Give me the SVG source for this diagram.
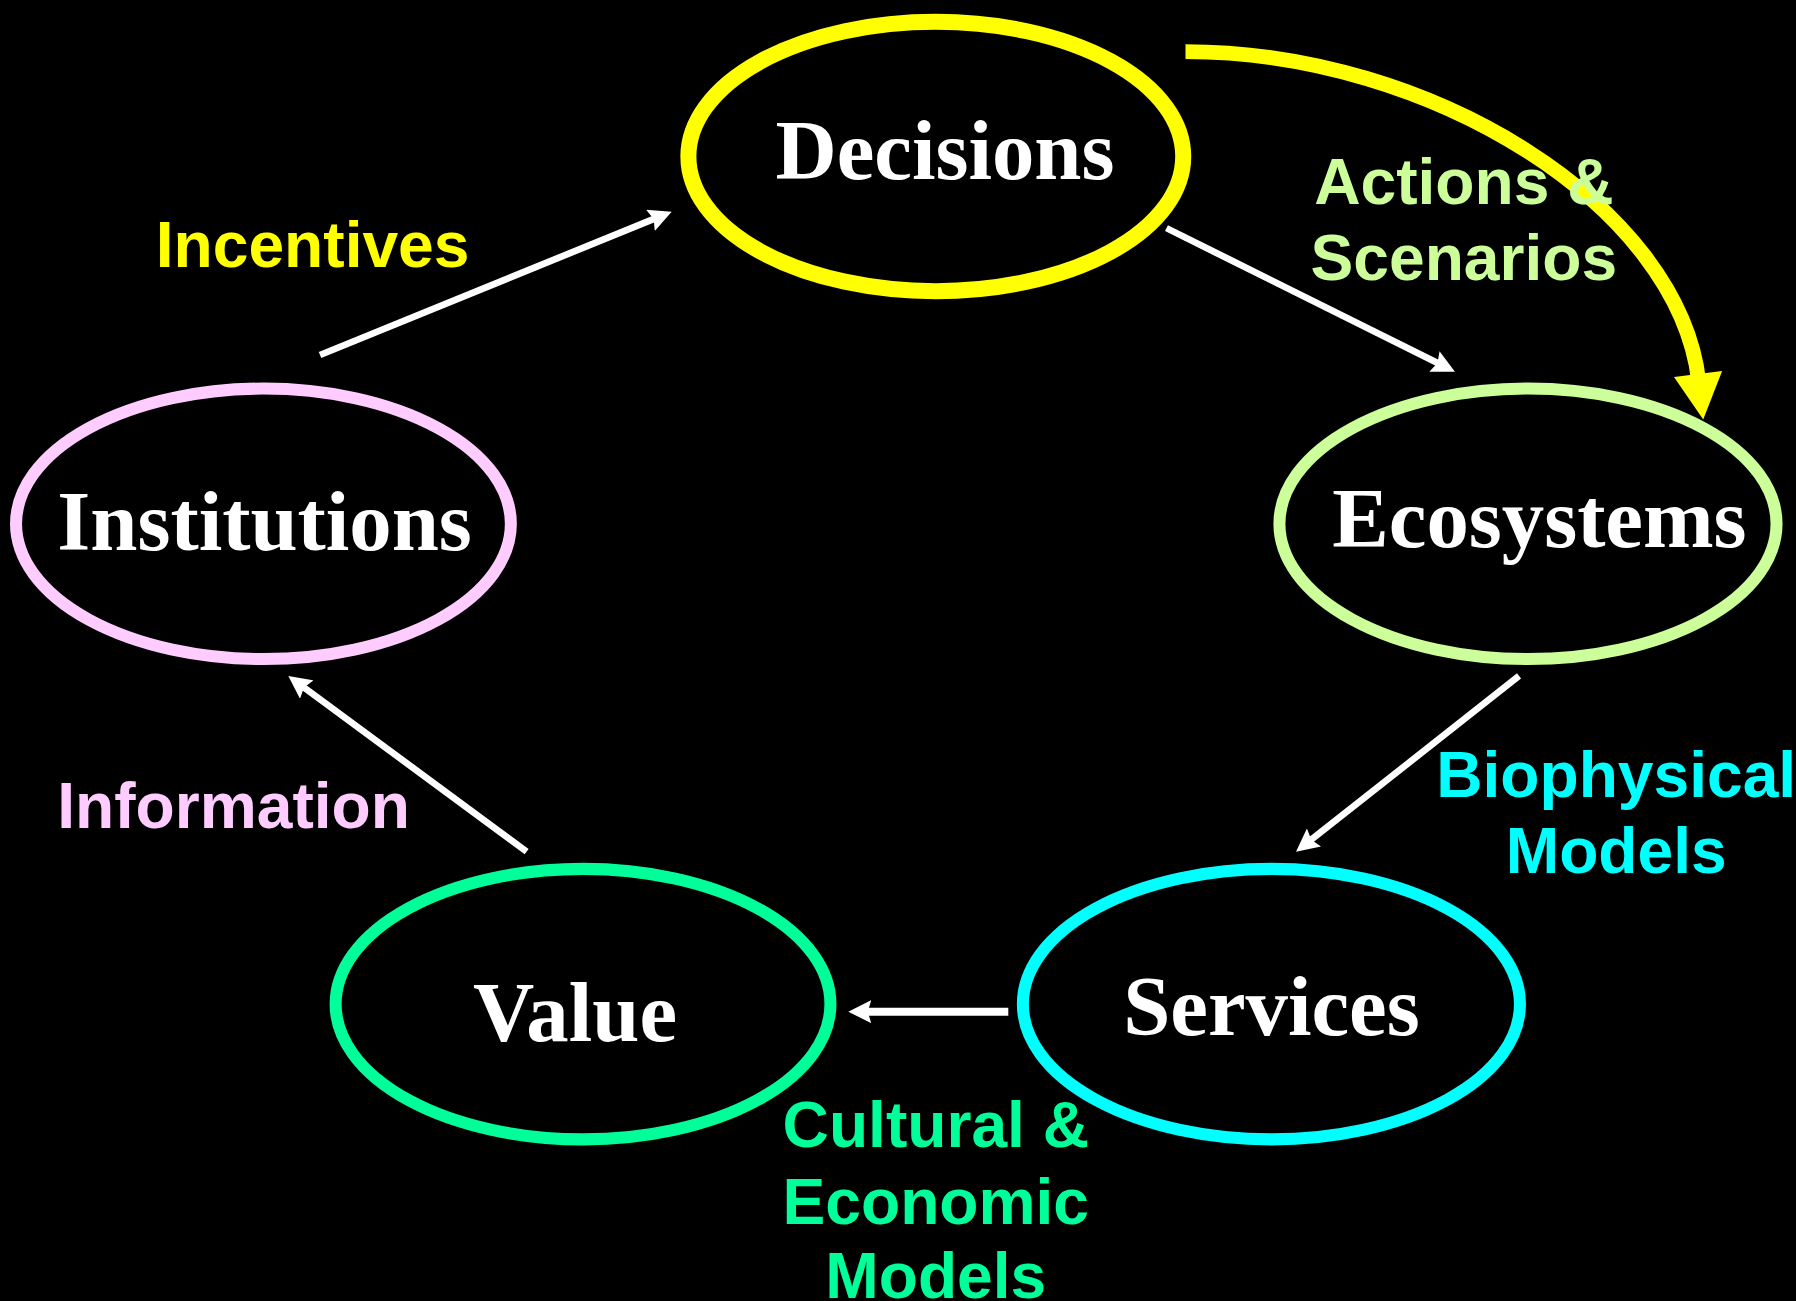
<svg xmlns="http://www.w3.org/2000/svg" width="1796" height="1301" viewBox="0 0 1796 1301">
<defs>
<style>
.node ellipse{fill:none;stroke-width:10.5}
.title{font-family:"Liberation Serif","Times New Roman",serif;font-weight:bold;font-size:74px;fill:#FFFFFF;text-anchor:middle}
.lbl{font-family:"Liberation Sans",Arial,sans-serif;font-weight:bold;font-size:56px}
.conn line{stroke:#FFFFFF;stroke-width:5.8;fill:none;marker-end:url(#ah)}
</style>
<marker id="ah" markerUnits="userSpaceOnUse" markerWidth="20" markerHeight="20" refX="8" refY="10" orient="auto" viewBox="0 0 20 20">
<path d="M0,0 L20,10 L0,20 L3,10 z" fill="#FFFFFF"/>
</marker>
</defs>
<rect x="0" y="0" width="1796" height="1301" fill="#000000"/>
<g transform="scale(1.14541 1.14626)">
<g id="connectors" class="conn">
<line x1="279.4" y1="309.7" x2="575.3" y2="189.2"/>
<line x1="1018.4" y1="199" x2="1259.5" y2="318.9"/>
<line x1="1326.2" y1="589.7" x2="1140.9" y2="735.6"/>
<line x1="880.3" y1="882.6" x2="752.6" y2="882.6" style="stroke-width:7"/>
<line x1="459.8" y1="743" x2="261.4" y2="596.8"/>
<path d="M1035,45 C1250,45 1465,180 1483,332" fill="none" stroke="#FFFF00" stroke-width="13"/>
<polygon points="1487,366 1461.5,329 1503.5,323.7" fill="#FFFF00"/>
</g>
<g id="decisions" class="node">
<ellipse cx="817" cy="136.5" rx="216" ry="117.5" stroke="#FFFF00" style="stroke-width:14"/>
<text class="title" x="825" y="156">Decisions</text>
</g>
<g id="institutions" class="node">
<ellipse cx="230" cy="457" rx="216" ry="118" stroke="#FFCCFF"/>
<text class="title" x="231" y="480">Institutions</text>
</g>
<g id="ecosystems" class="node">
<ellipse cx="1334" cy="457" rx="217" ry="118" stroke="#CCFF99"/>
<text class="title" x="1344" y="477">Ecosystems</text>
</g>
<g id="services" class="node">
<ellipse cx="1110" cy="876" rx="217" ry="118" stroke="#00FFFF"/>
<text class="title" x="1110" y="903">Services</text>
</g>
<g id="value" class="node">
<ellipse cx="509" cy="876" rx="216" ry="118" stroke="#00FF99"/>
<text class="title" x="502" y="908">Value</text>
</g>
<g id="labels">
<text class="lbl" x="136" y="233" fill="#FFFF00">Incentives</text>
<text class="lbl" x="1278" y="178" fill="#CCFF99" text-anchor="middle">Actions &amp;</text>
<text class="lbl" x="1278" y="244" fill="#CCFF99" text-anchor="middle">Scenarios</text>
<text class="lbl" x="1411" y="695" fill="#00FFFF" text-anchor="middle">Biophysical</text>
<text class="lbl" x="1411" y="762" fill="#00FFFF" text-anchor="middle">Models</text>
<text class="lbl" x="50" y="722" fill="#FFCCFF">Information</text>
<text class="lbl" x="817" y="1001" fill="#00FF99" text-anchor="middle">Cultural &amp;</text>
<text class="lbl" x="817" y="1068" fill="#00FF99" text-anchor="middle">Economic</text>
<text class="lbl" x="817" y="1132" fill="#00FF99" text-anchor="middle">Models</text>
</g>
</g>
</svg>
